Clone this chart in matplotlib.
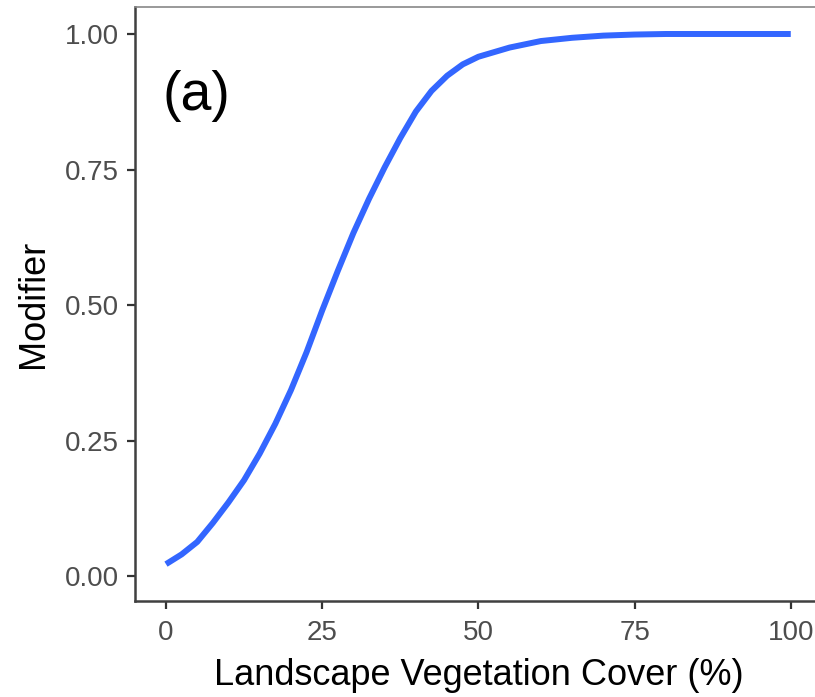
import matplotlib
matplotlib.use('Agg')
from matplotlib import pyplot as plt

# curve
cover = [0, 2.5, 5, 7.5, 10, 12.5, 15, 17.5, 20, 22.5, 25, 27.5, 30, 32.5, 35,
         37.5, 40, 42.5, 45, 47.5, 50, 55, 60, 65, 70, 75, 80, 100]
modifier = [0.022, 0.040, 0.063, 0.098, 0.136, 0.177, 0.226, 0.281, 0.343, 0.413,
            0.490, 0.563, 0.633, 0.696, 0.754, 0.808, 0.857, 0.895, 0.923, 0.944,
            0.958, 0.975, 0.987, 0.993, 0.997, 0.999, 1.0, 1.0]

x_ticks = [0, 25, 50, 75, 100]
y_ticks = [0.0, 0.25, 0.5, 0.75, 1.0]
y_labels = ['0.00', '0.25', '0.50', '0.75', '1.00']

plt.rcParams['font.family'] = ['Liberation Sans', 'DejaVu Sans']

fig = plt.figure(figsize=(8.15, 6.97), dpi=100)
# right edge sits past the figure: the original was cropped
ax = fig.add_axes([135 / 815, 1 - 601 / 697, 687 / 815, 594 / 697])

ax.plot(cover, modifier, color='#3366FF', linewidth=4.3,
        solid_capstyle='butt', solid_joinstyle='round')

ax.set_xlim(-4.96, 105)
ax.set_ylim(-0.046, 1.0498)
ax.set_xticks(x_ticks)
ax.set_yticks(y_ticks)
ax.set_yticklabels(y_labels)

ax.tick_params(axis='both', labelsize=20, labelcolor='#4D4D4D', color='#333333',
               length=5.5, width=1.6)
ax.tick_params(axis='y', pad=6)
ax.tick_params(axis='x', pad=8)

for side in ['left', 'bottom']:
    ax.spines[side].set_color('#404040')
    ax.spines[side].set_linewidth(1.8)
ax.spines['top'].set_color('#888888')
ax.spines['top'].set_linewidth(1.2)
ax.spines['right'].set_visible(False)

ax.set_xlabel('Landscape Vegetation Cover (%)', fontsize=26, color='black', labelpad=9)
ax.set_ylabel('Modifier', fontsize=26, color='black', labelpad=10)

ax.text(-0.5, 0.86, '(a)', fontsize=40, ha='left', va='baseline', color='black')

fig.savefig('out.png', dpi=100)
